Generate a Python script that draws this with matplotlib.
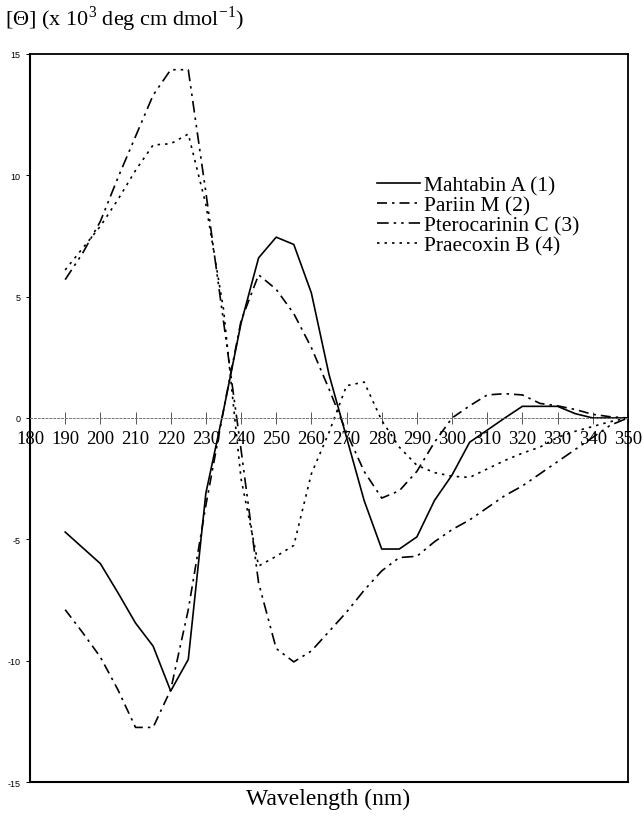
import matplotlib
matplotlib.use("Agg")
import matplotlib.pyplot as plt
import numpy as np

wavelength = list(range(190, 351, 5))

mahtabin_a = [-4.7, -5.35, -6.0, -7.2, -8.45, -9.4, -11.25, -9.95, -3.1, 0.3,
              3.9, 6.6, 7.45, 7.15, 5.15, 1.8, -0.8, -3.4, -5.4, -5.4,
              -4.9, -3.4, -2.35, -1.0, -0.5, 0.0, 0.48, 0.48, 0.48, 0.18,
              0.0, 0.0, 0.0]
pariin_m = [-7.9, -8.85, -9.85, -11.2, -12.75, -12.75, -11.2, -7.9, -3.6, 0.3,
            4.0, 5.9, 5.3, 4.3, 2.9, 1.2, -0.6, -2.2, -3.3, -3.0,
            -2.2, -1.0, 0.0, 0.5, 0.95, 1.0, 0.95, 0.6, 0.5, 0.35,
            0.15, 0.05, 0.0]
pterocarinin_c = [5.7, 6.8, 8.1, 9.9, 11.6, 13.3, 14.35, 14.35, 9.3, 4.0,
                  -1.3, -6.8, -9.5, -10.05, -9.6, -8.8, -8.0, -7.1, -6.3, -5.75,
                  -5.7, -5.1, -4.6, -4.2, -3.7, -3.2, -2.8, -2.3, -1.8, -1.3,
                  -0.8, -0.3, 0.0]
praecoxin_b = [6.1, 7.0, 7.9, 9.0, 10.2, 11.25, 11.3, 11.7, 8.8, 4.5,
               -2.5, -6.1, -5.7, -5.25, -2.3, -0.6, 1.33, 1.48, -0.1, -1.2,
               -1.95, -2.25, -2.4, -2.45, -2.1, -1.75, -1.45, -1.2, -0.8, -0.55,
               -0.35, -0.15, 0.0]

series_names = ["Mahtabin A (1)", "Pariin M (2)", "Pterocarinin C (3)", "Praecoxin B (4)"]
x_ticks = list(range(180, 351, 10))
y_ticks = [-15, -10, -5, 0, 5, 10, 15]

serif = ["Liberation Serif", "DejaVu Serif"]
sans = ["Liberation Sans", "DejaVu Sans"]
plt.rcParams["mathtext.fontset"] = "custom"
plt.rcParams["mathtext.rm"] = "Liberation Serif"

fig = plt.figure(figsize=(6.44, 8.2), dpi=100)
ax = fig.add_axes([0.0466, 0.0451, 0.9284, 0.8879])

lw = 1.2
ax.plot(wavelength, mahtabin_a, color="black", lw=lw, linestyle="-", label=series_names[0])
ax.plot(wavelength, pariin_m, color="black", lw=lw, dashes=(6, 3, 1.5, 3), label=series_names[1])
ax.plot(wavelength, pterocarinin_c, color="black", lw=lw, dashes=(7, 3, 1.5, 3, 1.5, 3), label=series_names[2])
ax.plot(wavelength, praecoxin_b, color="black", lw=lw, dashes=(1.5, 3), label=series_names[3])

ax.set_xlim(180, 350)
ax.set_ylim(-15, 15)

# x axis crossing at zero (dotted gray line with cross ticks)
ax.spines["bottom"].set_position(("data", 0))
ax.spines["bottom"].set_linestyle((0, (2, 2)))
ax.spines["bottom"].set_color("#777777")
ax.spines["bottom"].set_linewidth(0.7)
ax.set_xticks(x_ticks)
ax.set_xticklabels([str(t) for t in x_ticks], fontfamily=serif, fontsize=13.5)
ax.tick_params(axis="x", direction="inout", length=8, width=0.7, color="#555555", pad=5)
# frame bottom line
ax.axhline(-15, color="black", lw=1.5, clip_on=False)
for s in ["left", "right", "top"]:
    ax.spines[s].set_color("black")
ax.spines["left"].set_linewidth(1.5)
ax.spines["right"].set_linewidth(1.3)
ax.spines["top"].set_linewidth(1.3)

ax.set_yticks(y_ticks)
ax.set_yticklabels([str(t) for t in y_ticks], fontfamily=sans, fontsize=6.5)
ax.tick_params(axis="y", direction="out", length=3, width=0.7, pad=4)

leg = ax.legend(loc="upper left", bbox_to_anchor=(0.566, 0.845), frameon=False,
                prop={"family": serif, "size": 15.5}, handlelength=2.0,
                handletextpad=0.2, labelspacing=0.0, borderaxespad=0)

fig.text(0.008, 0.968, r"[Θ] (x 10$^\mathregular{3}$ deg cm dmol$^\mathregular{-1}$)",
         fontfamily=serif, fontsize=16, ha="left", va="baseline")
fig.text(0.51, 0.018, "Wavelength (nm)", fontfamily=serif, fontsize=17,
         ha="center", va="baseline")

fig.savefig("out.png", dpi=100)
